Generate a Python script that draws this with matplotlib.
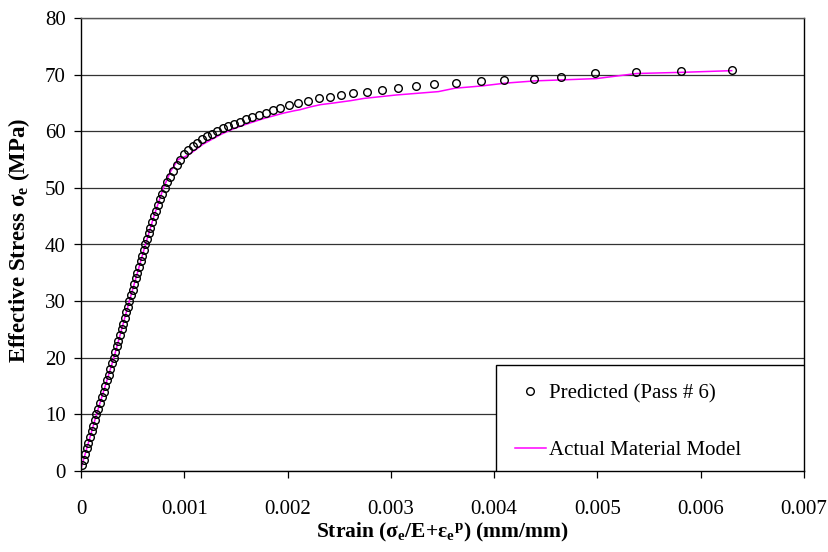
import numpy as np
import matplotlib
matplotlib.use('Agg')
from matplotlib import pyplot as plt

plt.rcParams['font.family'] = ['Liberation Serif', 'DejaVu Serif']
plt.rcParams['mathtext.fontset'] = 'custom'
plt.rcParams['mathtext.rm'] = 'Liberation Serif'
plt.rcParams['mathtext.bf'] = 'Liberation Serif:bold'
plt.rcParams['mathtext.it'] = 'Liberation Serif:italic'

# predicted points (Pass # 6): strain in units of 1e-3, stress in MPa
pred_strain_milli = [
    0.010, 0.026, 0.041, 0.057, 0.072, 0.088, 0.103, 0.119, 0.134, 0.150,
    0.167, 0.184, 0.201, 0.218, 0.235, 0.252, 0.268, 0.285, 0.301, 0.318,
    0.333, 0.348, 0.363, 0.378, 0.393, 0.408, 0.423, 0.438, 0.453, 0.468,
    0.484, 0.499, 0.515, 0.530, 0.546, 0.561, 0.577, 0.592, 0.608, 0.624,
    0.640, 0.656, 0.672, 0.689, 0.706, 0.723, 0.741, 0.765, 0.787, 0.810,
    0.835, 0.862, 0.892, 0.925, 0.962,
    1.00, 1.04, 1.08, 1.12, 1.17, 1.22, 1.27, 1.32, 1.37, 1.42,
    1.48, 1.54, 1.60, 1.66, 1.72, 1.79, 1.86, 1.93, 2.01, 2.10,
    2.20, 2.30, 2.41, 2.52, 2.63, 2.77, 2.91, 3.07, 3.24, 3.42,
    3.63, 3.87, 4.10, 4.39, 4.65, 4.98, 5.37, 5.81, 6.30]
pred_stress = [
    1.0, 2.0, 3.0, 4.0, 5.0, 6.0, 7.0, 8.0, 9.0, 10.0,
    11.0, 12.0, 13.0, 14.0, 15.0, 16.0, 17.0, 18.0, 19.0, 20.0,
    21.0, 22.0, 23.0, 24.0, 25.0, 26.0, 27.0, 28.0, 29.0, 30.0,
    31.0, 32.0, 33.0, 34.0, 35.0, 36.0, 37.0, 38.0, 39.0, 40.0,
    41.0, 42.0, 43.0, 44.0, 45.0, 46.0, 47.0, 48.0, 49.0, 50.0,
    51.0, 52.0, 53.0, 54.0, 55.0,
    55.9, 56.7, 57.4, 58.0, 58.6, 59.1, 59.6, 60.1, 60.5, 60.9,
    61.3, 61.7, 62.1, 62.5, 62.9, 63.3, 63.7, 64.1, 64.6, 65.0,
    65.4, 65.8, 66.1, 66.4, 66.7, 67.0, 67.2, 67.7, 68.0, 68.3,
    68.6, 68.8, 69.1, 69.3, 69.6, 70.2, 70.4, 70.6, 70.9]

# actual material model
act_strain_milli = [0.006, 0.150, 0.318, 0.468, 0.624, 0.706, 0.798, 0.870, 0.940,
                    1.03, 1.10, 1.18, 1.27, 1.36, 1.46, 1.56, 1.66, 1.76, 1.86,
                    1.96, 2.06, 2.12, 2.22, 2.32, 2.45, 2.61, 2.74, 3.05, 3.46,
                    3.62, 3.88, 4.11, 4.40, 4.70, 4.99, 5.38, 5.81, 6.30]
act_stress = [0.8, 10.0, 20.0, 30.0, 40.0, 45.0, 50.0, 53.0, 55.0,
              55.7, 56.6, 57.7, 58.6, 59.5, 60.3, 61.0, 61.6, 62.2, 62.7,
              63.2, 63.6, 63.8, 64.3, 64.7, 65.0, 65.4, 65.8, 66.4, 67.0,
              67.6, 68.0, 68.5, 68.9, 69.1, 69.3, 70.2, 70.4, 70.7]

xticks = [0, 0.001, 0.002, 0.003, 0.004, 0.005, 0.006, 0.007]
xticklabels = ['0', '0.001', '0.002', '0.003', '0.004', '0.005', '0.006', '0.007']
yticks = [0, 10, 20, 30, 40, 50, 60, 70, 80]

pred_strain = np.array(pred_strain_milli) / 1000.0
act_strain = np.array(act_strain_milli) / 1000.0

fig = plt.figure(figsize=(8.29, 5.52), dpi=100)
ax = fig.add_axes([81/829, 1 - 471/552, (804 - 81)/829, (471 - 18)/552])

ax.plot(act_strain, act_stress, color='#ff00ff', lw=1.1, zorder=2,
        label='Actual Material Model')
ax.plot(pred_strain, pred_stress, ls='none', marker='o', ms=5.5,
        mfc='none', mec='black', mew=1.0, zorder=3,
        label='Predicted (Pass # 6)')

ax.set_xlim(0, 0.007)
ax.set_ylim(0, 80)
ax.set_xticks(xticks)
ax.set_xticklabels(xticklabels)
ax.set_yticks(yticks)
ax.yaxis.grid(True, color='#333333', lw=0.9)
ax.set_axisbelow(True)
ax.tick_params(axis='x', direction='out', length=5, width=0.9, pad=16, labelsize=15)
ax.tick_params(axis='y', direction='out', length=5, width=0.9, pad=6, labelsize=15)
for s in ax.spines.values():
    s.set_linewidth(1.0)
ax.spines['top'].set_color('#555555')
ax.spines['bottom'].set_zorder(6)

ax.set_xlabel('Strain (σ$_\\mathbf{e}$/E+ε$_\\mathbf{e}{}^{\\mathbf{p}}$) (mm/mm)',
              fontsize=15.5, fontweight='bold', labelpad=1)
ax.set_ylabel('Effective Stress σ$_\\mathbf{e}$ (MPa)', fontsize=16.5, fontweight='bold')
ax.yaxis.set_label_coords(-0.068, 0.51)

# legend box sits on the x axis; its lower edge is clipped by the axes
h, l = ax.get_legend_handles_labels()
leg = ax.legend(h[::-1], l[::-1], loc='lower left',
                bbox_to_anchor=(0.574, -0.018, 0.426, 0.26), mode='expand',
                borderaxespad=0, fontsize=15, frameon=True, fancybox=False,
                edgecolor='black', framealpha=1, handlelength=1.5,
                handletextpad=0.15, labelspacing=1.8, borderpad=0.9, numpoints=1)
leg.get_frame().set_linewidth(1.0)
leg.get_frame().set_clip_box(ax.bbox)
leg.get_frame().set_clip_on(True)

plt.savefig('out.png', dpi=100)
